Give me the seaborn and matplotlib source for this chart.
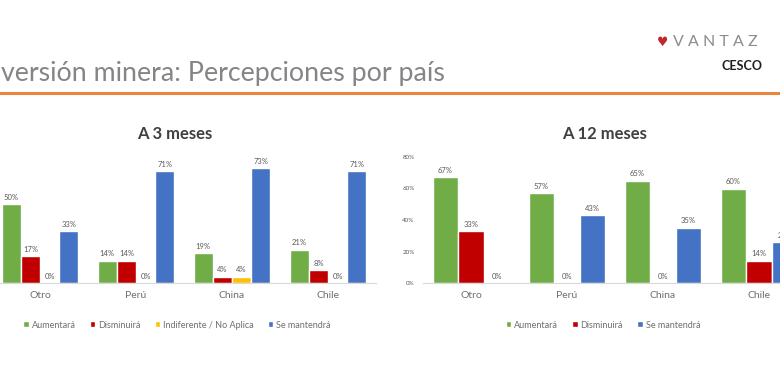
import seaborn as sns
import matplotlib.pyplot as plt
import pandas as pd
from matplotlib.patches import Patch
from matplotlib.lines import Line2D

# datos
paises = ['Otro', 'Perú', 'China', 'Chile']

series_3m = ['Aumentará', 'Disminuirá', 'Indiferente / No Aplica', 'Se mantendrá']
aumentara_3m = [50, 14, 19, 21]
disminuira_3m = [17, 14, 4, 8]
indiferente_3m = [0, 0, 4, 0]
mantendra_3m = [33, 71, 73, 71]

series_12m = ['Aumentará', 'Disminuirá', 'Se mantendrá']
aumentara_12m = [67, 57, 65, 60]
disminuira_12m = [33, 0, 0, 14]
mantendra_12m = [0, 43, 35, 26]

yticks_12m = [0, 20, 40, 60, 80]

colores = {'Aumentará': '#70AD47', 'Disminuirá': '#C00000',
           'Indiferente / No Aplica': '#FFC000', 'Se mantendrá': '#4472C4'}
gris = '#595959'

df3 = pd.DataFrame({
    'País': paises * 4,
    'Serie': [s for s in series_3m for _ in paises],
    'Valor': aumentara_3m + disminuira_3m + indiferente_3m + mantendra_3m,
})
df12 = pd.DataFrame({
    'País': paises * 3,
    'Serie': [s for s in series_12m for _ in paises],
    'Valor': aumentara_12m + disminuira_12m + mantendra_12m,
})

sns.set_style('white')
plt.rcParams['font.family'] = ['Lato', 'DejaVu Sans']

fig = plt.figure(figsize=(7.8, 3.76), dpi=100)
W, H = 780, 376

def px_axes(x0, x1, y0, y1):
    return fig.add_axes([x0 / W, 1 - y0 / H, (x1 - x0) / W, (y0 - y1) / H])

ax1 = px_axes(-8, 376, 283, 157)
ax2 = px_axes(423, 807, 283, 157)

for ax, df, order in [(ax1, df3, series_3m), (ax2, df12, series_12m)]:
    sns.barplot(data=df, x='País', y='Valor', hue='Serie', hue_order=order,
                palette=colores, saturation=1, width=0.8, ax=ax, legend=False)
    for c in ax.containers:
        ax.bar_label(c, fmt='%.0f%%', padding=2.5, fontsize=5.5, color=gris)
    ax.set_ylim(0, 80)
    ax.set_xlabel('')
    ax.set_ylabel('')
    sns.despine(ax=ax, left=True)
    ax.spines['bottom'].set_color('#D9D9D9')
    ax.tick_params(axis='x', length=0, pad=6, labelsize=7.5, labelcolor='#6F6F6F')
    ax.set_facecolor('none')

ax1.set_yticks([])
ax2.set_yticks(yticks_12m)
ax2.set_yticklabels([f'{v}%' for v in yticks_12m])
ax2.tick_params(axis='y', length=0, pad=6, labelsize=4.5, labelcolor=gris)

# titulos de graficos
fig.text(175 / W, 1 - 134 / H, 'A 3 meses', ha='center', va='center',
         fontsize=12, fontweight='bold', color='#404040')
fig.text(605 / W, 1 - 134 / H, 'A 12 meses', ha='center', va='center',
         fontsize=12, fontweight='bold', color='#404040')

# leyendas
h3 = [Patch(facecolor=colores[s]) for s in series_3m]
fig.legend(h3, series_3m, loc='center', bbox_to_anchor=(177 / W, 1 - 325 / H),
           ncol=4, frameon=False, fontsize=6.5, labelcolor='#6F6F6F',
           handlelength=0.6, handleheight=0.6, handletextpad=0.3, columnspacing=1.6)
h12 = [Patch(facecolor=colores[s]) for s in series_12m]
fig.legend(h12, series_12m, loc='center', bbox_to_anchor=(603 / W, 1 - 325 / H),
           ncol=3, frameon=False, fontsize=6.5, labelcolor='#6F6F6F',
           handlelength=0.6, handleheight=0.6, handletextpad=0.3, columnspacing=1.6)

# encabezado de la diapositiva
fig.text(1 / W, 1 - 73 / H, 'versión minera: Percepciones por país', ha='left', va='center',
         fontsize=19.3, color='#858585')
fig.add_artist(Line2D([0, 1], [1 - 93 / H] * 2, color='#E9853D', lw=2.2,
                      transform=fig.transFigure))
fig.text(663 / W, 1 - 42 / H, '♥', ha='center', va='center', fontsize=9,
         color='#C0282D', family='DejaVu Sans')
fig.text(673 / W, 1 - 42 / H, 'V A N T A Z', ha='left', va='center', fontsize=11.5,
         color='#8A8C8E')
fig.text(722 / W, 1 - 66 / H, 'CESCO', ha='left', va='center', fontsize=9,
         fontweight='bold', color='#231F20')

fig.savefig('out.png', dpi=100)
